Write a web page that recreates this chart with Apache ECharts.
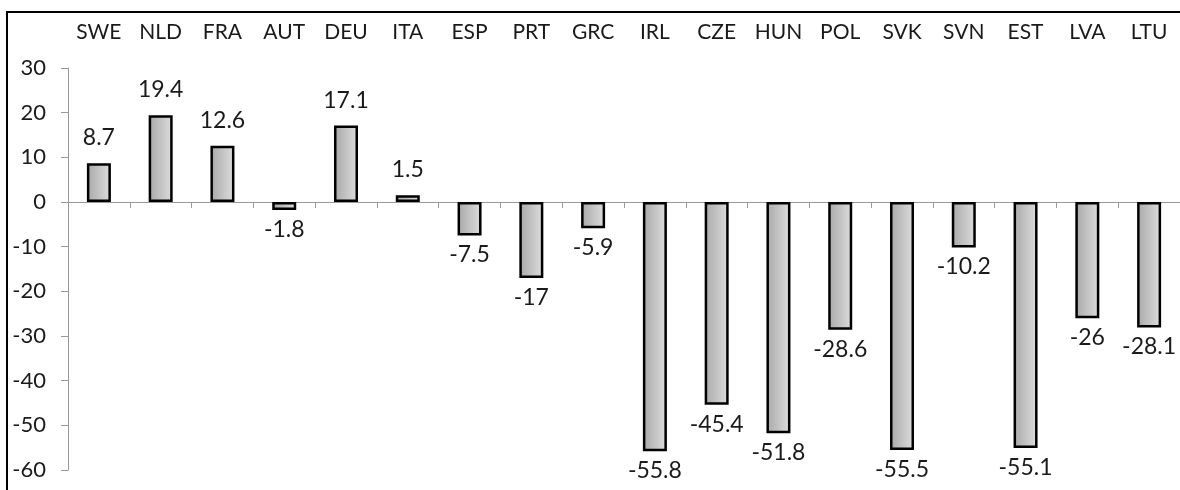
<!DOCTYPE html>
<html>
<head>
<meta charset="utf-8">
<script src="https://cdn.jsdelivr.net/npm/echarts@6/dist/echarts.min.js"></script>
<style>
  html, body { margin: 0; padding: 0; background: #fff; }
  #main { width: 1180px; height: 490px; }
</style>
</head>
<body>
<div id="main"></div>
<script>
// countries and values
var countries = ['SWE', 'NLD', 'FRA', 'AUT', 'DEU', 'ITA', 'ESP', 'PRT', 'GRC',
  'IRL', 'CZE', 'HUN', 'POL', 'SVK', 'SVN', 'EST', 'LVA', 'LTU'];
var values = [8.7, 19.4, 12.6, -1.8, 17.1, 1.5, -7.5, -17, -5.9,
  -55.8, -45.4, -51.8, -28.6, -55.5, -10.2, -55.1, -26, -28.1];
var yTicks = [-60, -50, -40, -30, -20, -10, 0, 10, 20, 30];

var chart = echarts.init(document.getElementById('main'));
var font = 'Lato, "Open Sans", sans-serif';

var barData = values.map(function (v) {
  return {
    value: v,
    label: { position: v >= 0 ? 'top' : 'bottom', distance: v >= 0 ? 14 : 8 }
  };
});

var option = {
  animation: false,
  textStyle: { fontFamily: font },
  grid: { left: 68, top: 68, right: -10, bottom: 20 },
  graphic: [{
    type: 'rect',
    shape: { x: 7, y: 12, width: 1200, height: 500 },
    style: { fill: 'none', stroke: '#000', lineWidth: 2 },
    silent: true
  }],
  xAxis: [{
    type: 'category',
    data: countries,
    position: 'bottom',
    axisLine: { onZero: true, lineStyle: { color: '#999', width: 1 } },
    axisTick: { show: true, length: 6, lineStyle: { color: '#999' } },
    axisLabel: { show: false }
  }, {
    type: 'category',
    data: countries,
    position: 'top',
    offset: 17,
    axisLine: { show: false },
    axisTick: { show: false },
    axisLabel: { fontSize: 21, color: '#1a1a1a', fontFamily: font }
  }],
  yAxis: {
    type: 'value',
    min: yTicks[0],
    max: yTicks[yTicks.length - 1],
    interval: 10,
    splitLine: { show: false },
    axisLine: { show: true, lineStyle: { color: '#999' } },
    axisTick: { show: true, length: 7, lineStyle: { color: '#999' } },
    axisLabel: { fontSize: 22, color: '#1a1a1a', margin: 22, fontFamily: font }
  },
  series: [{
    type: 'bar',
    xAxisIndex: 0,
    data: barData,
    barWidth: 24,
    itemStyle: {
      color: new echarts.graphic.LinearGradient(0, 0, 1, 0, [
        { offset: 0, color: '#a8a8a8' },
        { offset: 1, color: '#dedede' }
      ]),
      borderColor: '#000',
      borderWidth: 2.5
    },
    label: {
      show: true,
      fontSize: 23,
      color: '#1a1a1a',
      fontFamily: font
    }
  }]
};
chart.setOption(option);
</script>
</body>
</html>
